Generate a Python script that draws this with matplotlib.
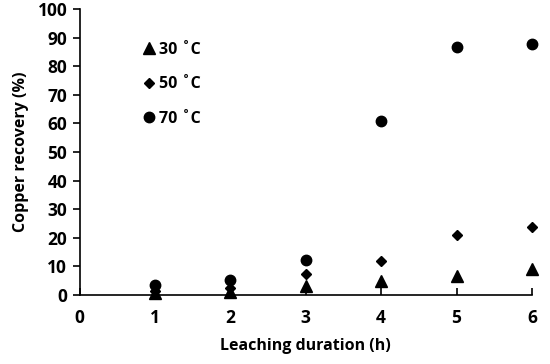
import matplotlib
matplotlib.use("Agg")
import matplotlib.pyplot as plt

# Leaching duration (h) and copper recovery (%) at each temperature
hours = [1, 2, 3, 4, 5, 6]
rec_30 = [0.5, 1.0, 3.0, 4.8, 6.7, 9.1]
rec_50 = [1.5, 2.5, 7.3, 11.8, 21.1, 23.9]
rec_70 = [3.4, 5.3, 12.3, 61.0, 86.9, 87.9]
labels = ["30 ˚C", "50 ˚C", "70 ˚C"]

plt.rcParams["font.family"] = ["Open Sans", "DejaVu Sans"]
plt.rcParams["font.weight"] = "bold"

fig = plt.figure(figsize=(5.5, 3.64), dpi=100)
ax = fig.add_axes([0.145, 0.19, 0.822, 0.785])

ax.plot(hours, rec_30, "^", color="black", markersize=9, label=labels[0], clip_on=False)
ax.plot(hours, rec_50, "D", color="black", markersize=5, label=labels[1], clip_on=False)
ax.plot(hours, rec_70, "o", color="black", markersize=7.5, label=labels[2], clip_on=False)

ax.set_xlim(0, 6)
ax.set_ylim(0, 100)
ax.set_xticks(range(0, 7))
ax.set_yticks(range(0, 101, 10))
ax.spines["top"].set_visible(False)
ax.spines["right"].set_visible(False)
ax.spines["left"].set_linewidth(1.2)
ax.spines["bottom"].set_linewidth(1.2)
ax.tick_params(axis="x", direction="in", length=5, width=1.2, pad=10, labelsize=12.5)
ax.tick_params(axis="y", direction="out", length=5, width=1.2, pad=4, labelsize=12.5)

ax.set_xlabel("Leaching duration (h)", fontsize=11.5, fontweight="bold", labelpad=8)
ax.set_ylabel("Copper recovery (%)", fontsize=11.5, fontweight="bold", labelpad=6)

ax.legend(loc="upper left", bbox_to_anchor=(0.10, 0.935), frameon=False,
          handletextpad=0.0, labelspacing=1.15, fontsize=11.5, handlelength=1.2)

fig.savefig("out.png", dpi=100)
